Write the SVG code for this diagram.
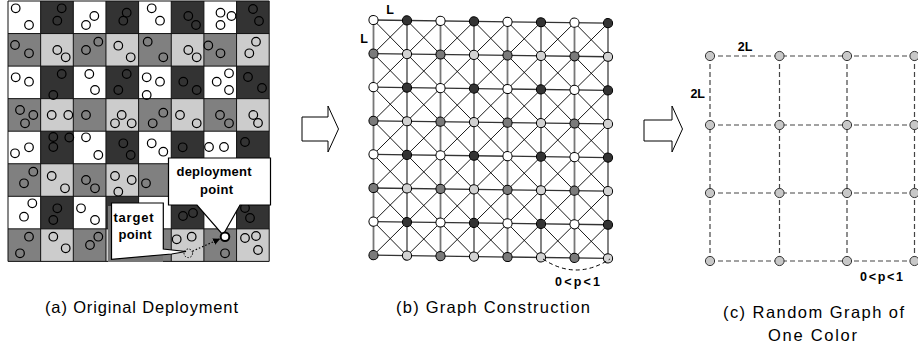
<svg xmlns="http://www.w3.org/2000/svg" width="918" height="351" viewBox="0 0 918 351">
<style>
.cap{font-family:"Liberation Sans",Arial,sans-serif;font-size:16.5px;fill:#000}
.lb{font-family:"Liberation Sans",Arial,sans-serif;font-weight:bold;font-size:12.5px;fill:#000}
.co{font-family:"Liberation Sans",Arial,sans-serif;font-weight:bold;font-size:13px;fill:#000}
.dot{fill:none;stroke:#000;stroke-width:1.2}
.bn circle{stroke:#000;stroke-width:1}
.nw{fill:#fff}.nd{fill:#333}.nm{fill:#7a7a7a}.nl{fill:#d2d2d2}
.cn circle{fill:#c8c8c8;stroke:#333;stroke-width:1}
.blk{fill:#fff;stroke:#000;stroke-width:1}
</style>
<defs>
<pattern id="cells" patternUnits="userSpaceOnUse" x="8" y="1" width="65.3" height="65.1">
<rect width="32.65" height="32.55" fill="#fff"/>
<rect x="32.65" width="32.65" height="32.55" fill="#333"/>
<rect y="32.55" width="32.65" height="32.55" fill="#808080"/>
<rect x="32.65" y="32.55" width="32.65" height="32.55" fill="#ccc"/>
</pattern>
<marker id="ah" viewBox="0 0 10 10" refX="9" refY="5" markerWidth="7" markerHeight="7" markerUnits="userSpaceOnUse" orient="auto">
<path d="M0,0L10,5L0,10Z" fill="#000"/>
</marker>
</defs>
<rect width="918" height="351" fill="#fff"/>

<!-- Panel (a) -->
<g id="panel-a">
<rect x="8" y="1" width="261.2" height="260.4" fill="url(#cells)"/>
<path d="M8,1V261.4M40.65,1V261.4M73.3,1V261.4M105.95,1V261.4M138.6,1V261.4M171.25,1V261.4M203.9,1V261.4M236.55,1V261.4M269.2,1V261.4M8,1H269.2M8,33.55H269.2M8,66.1H269.2M8,98.65H269.2M8,131.2H269.2M8,163.75H269.2M8,196.3H269.2M8,228.85H269.2M8,261.4H269.2" fill="none" stroke="#111" stroke-width="1"/>
<g id="sensors">
<circle class="dot" cx="15.7" cy="8.3" r="4.3"/><circle class="dot" cx="29" cy="25" r="4.3"/>
<circle class="dot" cx="61.7" cy="8.3" r="4.3"/><circle class="dot" cx="57.3" cy="20.7" r="4.3"/>
<circle class="dot" cx="94.3" cy="16" r="4.3"/><circle class="dot" cx="86" cy="25" r="4.3"/>
<circle class="dot" cx="126.7" cy="12.7" r="4.3"/><circle class="dot" cx="123.3" cy="20.7" r="4.3"/>
<circle class="dot" cx="151.7" cy="8.3" r="4.3"/><circle class="dot" cx="160" cy="20.7" r="4.3"/>
<circle class="dot" cx="188.3" cy="16" r="4.3"/><circle class="dot" cx="196" cy="25" r="4.3"/>
<circle class="dot" cx="220.5" cy="12.7" r="4.3"/><circle class="dot" cx="231.5" cy="16" r="4.3"/><circle class="dot" cx="220.5" cy="25" r="4.3"/>
<circle class="dot" cx="253" cy="9" r="4.3"/><circle class="dot" cx="259" cy="21" r="4.3"/>

<circle class="dot" cx="15" cy="45" r="4.3"/><circle class="dot" cx="29" cy="53.3" r="4.3"/>
<circle class="dot" cx="57.3" cy="50" r="4.3"/><circle class="dot" cx="65.7" cy="57.3" r="4.3"/>
<circle class="dot" cx="98.3" cy="41.7" r="4.3"/><circle class="dot" cx="86" cy="50" r="4.3"/>
<circle class="dot" cx="118.3" cy="45.7" r="4.3"/><circle class="dot" cx="130.7" cy="57.3" r="4.3"/>
<circle class="dot" cx="147.7" cy="41.7" r="4.3"/><circle class="dot" cx="163.3" cy="57.3" r="4.3"/>
<circle class="dot" cx="188.3" cy="50" r="4.3"/><circle class="dot" cx="196.7" cy="57.3" r="4.3"/>
<circle class="dot" cx="208.3" cy="45.5" r="4.3"/><circle class="dot" cx="220.5" cy="53.3" r="4.3"/>
<circle class="dot" cx="256" cy="41.7" r="4.3"/><circle class="dot" cx="249.3" cy="53.3" r="4.3"/>

<circle class="dot" cx="15.7" cy="77.3" r="4.3"/><circle class="dot" cx="29" cy="81.7" r="4.3"/>
<circle class="dot" cx="61.7" cy="74" r="4.3"/><circle class="dot" cx="53.3" cy="95" r="4.3"/>
<circle class="dot" cx="89.3" cy="74" r="4.3"/><circle class="dot" cx="95" cy="90" r="4.3"/>
<circle class="dot" cx="126.7" cy="74" r="4.3"/><circle class="dot" cx="118.3" cy="90" r="4.3"/>
<circle class="dot" cx="146.7" cy="77.3" r="4.3"/><circle class="dot" cx="160" cy="81.7" r="4.3"/><circle class="dot" cx="146.7" cy="95" r="4.3"/>
<circle class="dot" cx="183.3" cy="81.7" r="4.3"/><circle class="dot" cx="196.7" cy="90" r="4.3"/>
<circle class="dot" cx="216.7" cy="81.7" r="4.3"/><circle class="dot" cx="229" cy="73.3" r="4.3"/><circle class="dot" cx="229" cy="90" r="4.3"/>
<circle class="dot" cx="248" cy="77" r="4.3"/><circle class="dot" cx="262" cy="88" r="4.3"/>

<circle class="dot" cx="20" cy="110" r="4.3"/><circle class="dot" cx="33.3" cy="115" r="4.3"/><circle class="dot" cx="25" cy="123.3" r="4.3"/>
<circle class="dot" cx="51.7" cy="115" r="4.3"/><circle class="dot" cx="68.3" cy="115" r="4.3"/>
<circle class="dot" cx="86" cy="115" r="4.3"/>
<circle class="dot" cx="121.7" cy="115" r="4.3"/><circle class="dot" cx="115" cy="123.3" r="4.3"/><circle class="dot" cx="131.7" cy="123.3" r="4.3"/>
<circle class="dot" cx="163.3" cy="112.7" r="4.3"/><circle class="dot" cx="152.7" cy="123.3" r="4.3"/>
<circle class="dot" cx="180" cy="115" r="4.3"/><circle class="dot" cx="196.7" cy="123.3" r="4.3"/>
<circle class="dot" cx="220" cy="115" r="4.3"/><circle class="dot" cx="229" cy="123.3" r="4.3"/>
<circle class="dot" cx="253.3" cy="115" r="4.3"/><circle class="dot" cx="258" cy="123" r="4.3"/>

<circle class="dot" cx="15" cy="153.3" r="4.3"/><circle class="dot" cx="29" cy="147.3" r="4.3"/>
<circle class="dot" cx="53.3" cy="137" r="4.3"/><circle class="dot" cx="53.3" cy="147" r="4.3"/><circle class="dot" cx="69.3" cy="137.5" r="4.3"/>
<circle class="dot" cx="86" cy="137.3" r="4.3"/><circle class="dot" cx="98.3" cy="155" r="4.3"/>
<circle class="dot" cx="123.3" cy="143.3" r="4.3"/><circle class="dot" cx="130.7" cy="155" r="4.3"/>
<circle class="dot" cx="151.7" cy="143.3" r="4.3"/><circle class="dot" cx="163.3" cy="151.7" r="4.3"/>
<circle class="dot" cx="182.7" cy="147.3" r="4.3"/>
<circle class="dot" cx="209" cy="147" r="4.3"/><circle class="dot" cx="224" cy="147" r="4.3"/>
<circle class="dot" cx="245" cy="142" r="4.3"/>

<circle class="dot" cx="33.3" cy="171.7" r="4.3"/><circle class="dot" cx="24" cy="183.3" r="4.3"/>
<circle class="dot" cx="51.7" cy="176" r="4.3"/><circle class="dot" cx="65" cy="188.3" r="4.3"/>
<circle class="dot" cx="86" cy="180" r="4.3"/><circle class="dot" cx="95" cy="188.3" r="4.3"/>
<circle class="dot" cx="115" cy="176" r="4.3"/><circle class="dot" cx="131.7" cy="180" r="4.3"/><circle class="dot" cx="118.3" cy="191.7" r="4.3"/>
<circle class="dot" cx="146" cy="183.3" r="4.3"/>

<circle class="dot" cx="32.3" cy="203.3" r="4.3"/><circle class="dot" cx="24" cy="216.7" r="4.3"/>
<circle class="dot" cx="57.3" cy="208.3" r="4.3"/><circle class="dot" cx="53.3" cy="220" r="4.3"/>
<circle class="dot" cx="81" cy="208.3" r="4.3"/><circle class="dot" cx="95" cy="220" r="4.3"/>
<circle class="dot" cx="183" cy="216" r="4.3"/><circle class="dot" cx="193" cy="213" r="4.3"/>
<circle class="dot" cx="245" cy="208" r="4.3"/><circle class="dot" cx="250" cy="218" r="4.3"/>

<circle class="dot" cx="29" cy="236.7" r="4.3"/><circle class="dot" cx="20" cy="253.3" r="4.3"/>
<circle class="dot" cx="53.3" cy="236.7" r="4.3"/><circle class="dot" cx="65.7" cy="248.3" r="4.3"/>
<circle class="dot" cx="98.3" cy="236.7" r="4.3"/><circle class="dot" cx="90" cy="245" r="4.3"/>
<circle class="dot" cx="176.7" cy="239.3" r="4.3"/><circle class="dot" cx="191.7" cy="236.7" r="4.3"/>
<circle class="dot" cx="225" cy="253.3" r="4.3"/>
<circle class="dot" cx="245" cy="238" r="4.3"/><circle class="dot" cx="256" cy="236" r="4.3"/><circle class="dot" cx="258" cy="250" r="4.3"/>
</g>
<!-- target callout -->
<g id="target-callout">
<rect x="108" y="206" width="55" height="56" fill="#777"/>
<path d="M111.5,203H163.3V249L186,251.5L171.7,254L111.5,259.3Z" fill="#fff" stroke="#000" stroke-width="1.2"/>
<text class="co" x="133.5" y="221.5" text-anchor="middle" textLength="40" lengthAdjust="spacing">target</text>
<text class="co" x="135" y="238.5" text-anchor="middle" textLength="33" lengthAdjust="spacing">point</text>
</g>
<!-- deployment callout -->
<g id="deployment-callout">
<path d="M168.5,158H270.5V205H240L223,235L197,205H168.5Z" fill="#fff" stroke="#000" stroke-width="1.2"/>
<text class="co" x="214" y="176" text-anchor="middle" textLength="75" lengthAdjust="spacing">deployment</text>
<text class="co" x="216.5" y="194" text-anchor="middle" textLength="33" lengthAdjust="spacing">point</text>
</g>
<circle cx="188.3" cy="253.3" r="4.3" fill="none" stroke="#000" stroke-width="1" stroke-dasharray="1.5,1.5"/>
<path d="M192.5,251.2L219.5,239" fill="none" stroke="#000" stroke-width="1.2" stroke-dasharray="1.5,2" marker-end="url(#ah)"/>
<circle cx="225" cy="236.8" r="4.3" fill="#fff" stroke="#000" stroke-width="2"/>
<text class="cap" x="45" y="313" textLength="193" lengthAdjust="spacing">(a) Original Deployment</text>
</g>

<!-- block arrows -->
<polygon class="blk" points="302,117 328,117 328,106 338.5,129 328,152 328,141 302,141"/>
<polygon class="blk" points="644,120 672,120 672,106 682.5,129 672,152 672,141 644,141"/>

<!-- Panel (b) -->
<g id="panel-b" transform="translate(373.5,20) skewY(0.77)">
<g id="b-connectors" fill="none">
<path d="M0,0V235.2M33.5,0V235.2M67,0V235.2M100.5,0V235.2M134,0V235.2M167.5,0V235.2M201,0V235.2M234.5,0V235.2" stroke="#777" stroke-width="1.8"/>
<path d="M0,0H234.5M0,33.6H234.5M0,67.2H234.5M0,100.8H234.5M0,134.4H234.5M0,168H234.5M0,201.6H234.5M0,235.2H234.5" stroke="#333" stroke-width="1.3"/>
<path d="M0,0L234.5,235.2M33.5,0L234.5,201.6M67,0L234.5,168M100.5,0L234.5,134.4M134,0L234.5,100.8M167.5,0L234.5,67.2M201,0L234.5,33.6M0,33.6L201,235.2M0,67.2L167.5,235.2M0,100.8L134,235.2M0,134.4L100.5,235.2M0,168L67,235.2M0,201.6L33.5,235.2M33.5,0L0,33.6M67,0L0,67.2M100.5,0L0,100.8M134,0L0,134.4M167.5,0L0,168M201,0L0,201.6M234.5,0L0,235.2M234.5,33.6L33.5,235.2M234.5,67.2L67,235.2M234.5,100.8L100.5,235.2M234.5,134.4L134,235.2M234.5,168L167.5,235.2M234.5,201.6L201,235.2" stroke="#000" stroke-width="0.9"/>
</g>
<g class="bn">
<g id="b-r0c0"><circle cx="0" cy="0" r="4.6" class="nw"/></g>
<g id="b-r0c1"><circle cx="33.5" cy="0" r="4.6" class="nd"/></g>
<g id="b-r0c2"><circle cx="67" cy="0" r="4.6" class="nw"/></g>
<g id="b-r0c3"><circle cx="100.5" cy="0" r="4.6" class="nd"/></g>
<g id="b-r0c4"><circle cx="134" cy="0" r="4.6" class="nw"/></g>
<g id="b-r0c5"><circle cx="167.5" cy="0" r="4.6" class="nd"/></g>
<g id="b-r0c6"><circle cx="201" cy="0" r="4.6" class="nw"/></g>
<g id="b-r0c7"><circle cx="234.5" cy="0" r="4.6" class="nd"/></g>
<g id="b-r1c0"><circle cx="0" cy="33.6" r="4.6" class="nm"/></g>
<g id="b-r1c1"><circle cx="33.5" cy="33.6" r="4.6" class="nl"/></g>
<g id="b-r1c2"><circle cx="67" cy="33.6" r="4.6" class="nm"/></g>
<g id="b-r1c3"><circle cx="100.5" cy="33.6" r="4.6" class="nl"/></g>
<g id="b-r1c4"><circle cx="134" cy="33.6" r="4.6" class="nm"/></g>
<g id="b-r1c5"><circle cx="167.5" cy="33.6" r="4.6" class="nl"/></g>
<g id="b-r1c6"><circle cx="201" cy="33.6" r="4.6" class="nm"/></g>
<g id="b-r1c7"><circle cx="234.5" cy="33.6" r="4.6" class="nl"/></g>
<g id="b-r2c0"><circle cx="0" cy="67.2" r="4.6" class="nw"/></g>
<g id="b-r2c1"><circle cx="33.5" cy="67.2" r="4.6" class="nd"/></g>
<g id="b-r2c2"><circle cx="67" cy="67.2" r="4.6" class="nw"/></g>
<g id="b-r2c3"><circle cx="100.5" cy="67.2" r="4.6" class="nd"/></g>
<g id="b-r2c4"><circle cx="134" cy="67.2" r="4.6" class="nw"/></g>
<g id="b-r2c5"><circle cx="167.5" cy="67.2" r="4.6" class="nd"/></g>
<g id="b-r2c6"><circle cx="201" cy="67.2" r="4.6" class="nw"/></g>
<g id="b-r2c7"><circle cx="234.5" cy="67.2" r="4.6" class="nd"/></g>
<g id="b-r3c0"><circle cx="0" cy="100.8" r="4.6" class="nm"/></g>
<g id="b-r3c1"><circle cx="33.5" cy="100.8" r="4.6" class="nl"/></g>
<g id="b-r3c2"><circle cx="67" cy="100.8" r="4.6" class="nm"/></g>
<g id="b-r3c3"><circle cx="100.5" cy="100.8" r="4.6" class="nl"/></g>
<g id="b-r3c4"><circle cx="134" cy="100.8" r="4.6" class="nm"/></g>
<g id="b-r3c5"><circle cx="167.5" cy="100.8" r="4.6" class="nl"/></g>
<g id="b-r3c6"><circle cx="201" cy="100.8" r="4.6" class="nm"/></g>
<g id="b-r3c7"><circle cx="234.5" cy="100.8" r="4.6" class="nl"/></g>
<g id="b-r4c0"><circle cx="0" cy="134.4" r="4.6" class="nw"/></g>
<g id="b-r4c1"><circle cx="33.5" cy="134.4" r="4.6" class="nd"/></g>
<g id="b-r4c2"><circle cx="67" cy="134.4" r="4.6" class="nw"/></g>
<g id="b-r4c3"><circle cx="100.5" cy="134.4" r="4.6" class="nd"/></g>
<g id="b-r4c4"><circle cx="134" cy="134.4" r="4.6" class="nw"/></g>
<g id="b-r4c5"><circle cx="167.5" cy="134.4" r="4.6" class="nd"/></g>
<g id="b-r4c6"><circle cx="201" cy="134.4" r="4.6" class="nw"/></g>
<g id="b-r4c7"><circle cx="234.5" cy="134.4" r="4.6" class="nd"/></g>
<g id="b-r5c0"><circle cx="0" cy="168" r="4.6" class="nm"/></g>
<g id="b-r5c1"><circle cx="33.5" cy="168" r="4.6" class="nl"/></g>
<g id="b-r5c2"><circle cx="67" cy="168" r="4.6" class="nm"/></g>
<g id="b-r5c3"><circle cx="100.5" cy="168" r="4.6" class="nl"/></g>
<g id="b-r5c4"><circle cx="134" cy="168" r="4.6" class="nm"/></g>
<g id="b-r5c5"><circle cx="167.5" cy="168" r="4.6" class="nl"/></g>
<g id="b-r5c6"><circle cx="201" cy="168" r="4.6" class="nm"/></g>
<g id="b-r5c7"><circle cx="234.5" cy="168" r="4.6" class="nl"/></g>
<g id="b-r6c0"><circle cx="0" cy="201.6" r="4.6" class="nw"/></g>
<g id="b-r6c1"><circle cx="33.5" cy="201.6" r="4.6" class="nd"/></g>
<g id="b-r6c2"><circle cx="67" cy="201.6" r="4.6" class="nw"/></g>
<g id="b-r6c3"><circle cx="100.5" cy="201.6" r="4.6" class="nd"/></g>
<g id="b-r6c4"><circle cx="134" cy="201.6" r="4.6" class="nw"/></g>
<g id="b-r6c5"><circle cx="167.5" cy="201.6" r="4.6" class="nd"/></g>
<g id="b-r6c6"><circle cx="201" cy="201.6" r="4.6" class="nw"/></g>
<g id="b-r6c7"><circle cx="234.5" cy="201.6" r="4.6" class="nd"/></g>
<g id="b-r7c0"><circle cx="0" cy="235.2" r="4.6" class="nm"/></g>
<g id="b-r7c1"><circle cx="33.5" cy="235.2" r="4.6" class="nl"/></g>
<g id="b-r7c2"><circle cx="67" cy="235.2" r="4.6" class="nm"/></g>
<g id="b-r7c3"><circle cx="100.5" cy="235.2" r="4.6" class="nl"/></g>
<g id="b-r7c4"><circle cx="134" cy="235.2" r="4.6" class="nm"/></g>
<g id="b-r7c5"><circle cx="167.5" cy="235.2" r="4.6" class="nl"/></g>
<g id="b-r7c6"><circle cx="201" cy="235.2" r="4.6" class="nm"/></g>
<g id="b-r7c7"><circle cx="234.5" cy="235.2" r="4.6" class="nl"/></g>
</g>
</g>
<path d="M543,259Q576,281 610,259" fill="none" stroke="#000" stroke-width="1" stroke-dasharray="4,3"/>
<text class="lb" x="390" y="14" text-anchor="middle">L</text>
<text class="lb" x="364" y="42.7" text-anchor="middle">L</text>
<text class="lb" x="555" y="286" textLength="45" lengthAdjust="spacing">0&lt;p&lt;1</text>
<text class="cap" x="396" y="313" textLength="194" lengthAdjust="spacing">(b) Graph Construction</text>

<!-- Panel (c) -->
<g id="panel-c">
<g id="c-connectors" fill="none" stroke="#444" stroke-width="1.2" stroke-dasharray="5,3">
<path d="M710,56H914.5M710,125H914.5M710,193H914.5M710,261H914.5"/>
<path d="M710,56V261M779.5,56V261M847,56V261M914.5,56V261"/>
</g>
<g class="cn">
<g id="c-r0c0"><circle cx="710" cy="56" r="4.6"/></g>
<g id="c-r0c1"><circle cx="779.5" cy="56" r="4.6"/></g>
<g id="c-r0c2"><circle cx="847" cy="56" r="4.6"/></g>
<g id="c-r0c3"><circle cx="914.5" cy="56" r="4.6"/></g>
<g id="c-r1c0"><circle cx="710" cy="125" r="4.6"/></g>
<g id="c-r1c1"><circle cx="779.5" cy="125" r="4.6"/></g>
<g id="c-r1c2"><circle cx="847" cy="125" r="4.6"/></g>
<g id="c-r1c3"><circle cx="914.5" cy="125" r="4.6"/></g>
<g id="c-r2c0"><circle cx="710" cy="193" r="4.6"/></g>
<g id="c-r2c1"><circle cx="779.5" cy="193" r="4.6"/></g>
<g id="c-r2c2"><circle cx="847" cy="193" r="4.6"/></g>
<g id="c-r2c3"><circle cx="914.5" cy="193" r="4.6"/></g>
<g id="c-r3c0"><circle cx="710" cy="261" r="4.6"/></g>
<g id="c-r3c1"><circle cx="779.5" cy="261" r="4.6"/></g>
<g id="c-r3c2"><circle cx="847" cy="261" r="4.6"/></g>
<g id="c-r3c3"><circle cx="914.5" cy="261" r="4.6"/></g>
</g>
<text class="lb" x="745" y="50.7" text-anchor="middle" font-size="12">2L</text>
<text class="lb" x="697.7" y="97.7" text-anchor="middle" font-size="12">2L</text>
<text class="lb" x="860" y="281" textLength="43" lengthAdjust="spacing" font-size="12">0&lt;p&lt;1</text>
<text class="cap" x="723" y="318" textLength="181" lengthAdjust="spacing">(c) Random Graph of</text>
<text class="cap" x="768" y="341" textLength="89" lengthAdjust="spacing">One Color</text>
</g>
</svg>
